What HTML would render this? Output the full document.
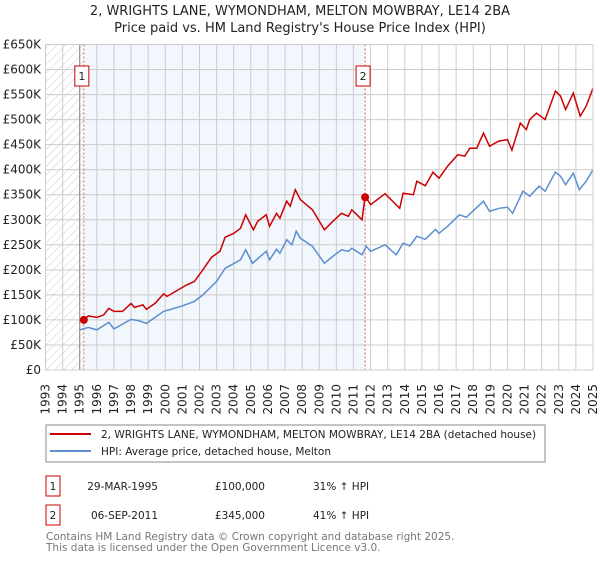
<!DOCTYPE html>
<html><head><meta charset="utf-8"><style>
body{margin:0;background:#fff;font-family:"DejaVu Sans","Liberation Sans",sans-serif;}
</style></head><body>
<svg width="600" height="560" viewBox="0 0 600 560" xmlns="http://www.w3.org/2000/svg" font-family="DejaVu Sans, Liberation Sans, sans-serif">
<defs><pattern id="hatch" width="6" height="6" patternUnits="userSpaceOnUse" patternTransform="rotate(45)"><line x1="0" y1="0" x2="0" y2="6" stroke="#ccc" stroke-width="1"/></pattern></defs>
<text x="300" y="15" text-anchor="middle" font-size="13" fill="#222">2, WRIGHTS LANE, WYMONDHAM, MELTON MOWBRAY, LE14 2BA</text>
<text x="300" y="32" text-anchor="middle" font-size="13" fill="#222">Price paid vs. HM Land Registry's House Price Index (HPI)</text>
<g id="plot"></g>
<g>
<rect x="46" y="425" width="499" height="37" fill="#fff" stroke="#888"/>
<line x1="50" y1="434" x2="91" y2="434" stroke="#cc0000" stroke-width="2"/>
<text x="101" y="438" font-size="10.5" fill="#222">2, WRIGHTS LANE, WYMONDHAM, MELTON MOWBRAY, LE14 2BA (detached house)</text>
<line x1="50" y1="451" x2="91" y2="451" stroke="#5b8fd0" stroke-width="2"/>
<text x="101" y="455" font-size="10.5" fill="#222">HPI: Average price, detached house, Melton</text>
</g>
<g font-size="10.5" fill="#222">
<rect x="46" y="476" width="14" height="20" fill="#fff" stroke="#cc0000"/>
<text x="53" y="490" text-anchor="middle">1</text>
<text x="158" y="490" text-anchor="end">29-MAR-1995</text>
<text x="265" y="490" text-anchor="end">£100,000</text>
<text x="313" y="490">31% ↑ HPI</text>
<rect x="46" y="505" width="14" height="20" fill="#fff" stroke="#cc0000"/>
<text x="53" y="519" text-anchor="middle">2</text>
<text x="158" y="519" text-anchor="end">06-SEP-2011</text>
<text x="265" y="519" text-anchor="end">£345,000</text>
<text x="313" y="519">41% ↑ HPI</text>
</g>
<text x="46" y="540" font-size="10.5" fill="#777">Contains HM Land Registry data © Crown copyright and database right 2025.</text>
<text x="46" y="551" font-size="10.5" fill="#777">This data is licensed under the Open Government Licence v3.0.</text>
</svg>
<script>
const yearTicks=[1993,1994,1995,1996,1997,1998,1999,2000,2001,2002,2003,2004,2005,2006,2007,2008,2009,2010,2011,2012,2013,2014,2015,2016,2017,2018,2019,2020,2021,2022,2023,2024,2025];
const valueTicks=[0,50,100,150,200,250,300,350,400,450,500,550,600,650];
const valueTickLabels=["£0","£50K","£100K","£150K","£200K","£250K","£300K","£350K","£400K","£450K","£500K","£550K","£600K","£650K"];
const saleYears=[1995.24,2011.68];
const salePrices=[100,345];
const saleLabels=["1","2"];
const propYears=[1995.24,1995.5,1996.0,1996.4,1996.7,1997.0,1997.5,1998.0,1998.2,1998.7,1998.9,1999.4,1999.9,2000.1,2000.8,2001.25,2001.7,2002.2,2002.7,2003.2,2003.5,2004.0,2004.4,2004.7,2005.15,2005.4,2005.9,2006.1,2006.5,2006.7,2007.1,2007.3,2007.6,2007.9,2008.6,2009.3,2009.8,2010.3,2010.7,2010.9,2011.5,2011.68,2012.0,2012.85,2013.7,2013.9,2014.5,2014.7,2015.2,2015.65,2016.0,2016.5,2017.1,2017.5,2017.8,2018.2,2018.6,2018.95,2019.5,2020.0,2020.26,2020.75,2021.1,2021.3,2021.7,2022.2,2022.8,2023.1,2023.4,2023.85,2024.25,2024.6,2025.0];
const propValues=[100,108,105,110,123,117,117,133,125,130,121,133,152,147,161,170,177,200,225,237,265,273,283,310,280,297,310,287,313,303,337,327,360,340,320,280,297,313,307,320,300,347,330,352,323,353,350,377,368,395,383,407,430,427,443,443,473,447,457,460,439,493,480,500,513,500,557,547,520,553,507,527,563];
const hpiYears=[1995.0,1995.5,1996.0,1996.7,1997.0,1998.0,1998.5,1998.9,1999.9,2000.9,2001.7,2002.2,2003.0,2003.5,2004.4,2004.7,2005.1,2005.9,2006.1,2006.5,2006.7,2007.1,2007.4,2007.65,2007.9,2008.6,2009.3,2009.8,2010.3,2010.7,2010.9,2011.5,2011.75,2012.0,2012.85,2013.5,2013.9,2014.3,2014.7,2015.2,2015.8,2016.0,2016.5,2017.2,2017.6,2017.9,2018.6,2018.95,2019.5,2020.0,2020.3,2020.9,2021.3,2021.85,2022.2,2022.8,2023.1,2023.4,2023.85,2024.2,2024.6,2025.0];
const hpiValues=[80,85,80,95,82,101,98,93,117,127,137,150,177,203,220,240,213,237,220,241,233,260,250,277,263,247,213,227,240,237,243,230,247,237,250,230,253,248,267,261,281,273,287,310,305,315,337,317,323,325,313,357,347,367,357,395,387,370,393,360,377,400];

const NS="http://www.w3.org/2000/svg";
const L=45.5,R=593,T=44.5,B=370;
const xS=y=>L+(y-1993)/(2025-1993)*(R-L);
const yS=v=>B-v/650*(B-T);
const g=document.getElementById('plot');
function mk(tag,attrs,parent){const e=document.createElementNS(NS,tag);for(const k in attrs)e.setAttribute(k,attrs[k]);(parent||g).appendChild(e);return e;}
let e;
e=mk('rect',{x:L,y:T,width:R-L,height:B-T,fill:'#fff'});


e=mk('rect',{x:L,y:T,width:xS(saleYears[0])-L,height:B-T,fill:'url(#hatch)'});


e=mk('rect',{x:xS(saleYears[0]),y:T,width:xS(saleYears[1])-xS(saleYears[0]),height:B-T,fill:'#f2f6fd'});


yearTicks.forEach(yr=>{
 e=mk('line',{x1:xS(yr),x2:xS(yr),y1:T,y2:B,stroke:'#ccc','stroke-width':1});
 
 
 e=mk('text',{x:0,y:0,transform:`translate(${xS(yr)+4},384) rotate(-90)`,'text-anchor':'end','font-size':12,fill:'#222'});
 e.textContent=yr;
 
 
});
valueTicks.forEach((v,i)=>{
 e=mk('line',{x1:L,x2:R,y1:yS(v),y2:yS(v),stroke:'#ccc','stroke-width':1});
 
 
 e=mk('text',{x:41,y:yS(v)+4,'text-anchor':'end','font-size':12,fill:'#222'});
 e.textContent=valueTickLabels[i];
 
 
});
e=mk('line',{x1:xS(1995),x2:xS(1995),y1:T,y2:B,stroke:'#888','stroke-width':1});


saleYears.forEach((yr,i)=>{
 e=mk('line',{x1:xS(yr),x2:xS(yr),y1:T,y2:B,stroke:'#e06060','stroke-width':1,'stroke-dasharray':'2,2'});
 
 
});
e=mk('path',{d:'M'+hpiYears.map((y,i)=>xS(y).toFixed(1)+','+yS(hpiValues[i]).toFixed(1)).join('L'),fill:'none',stroke:'#5b8fd0','stroke-width':1.5});


e=mk('path',{d:'M'+propYears.map((y,i)=>xS(y).toFixed(1)+','+yS(propValues[i]).toFixed(1)).join('L'),fill:'none',stroke:'#cc0000','stroke-width':1.5});


saleYears.forEach((yr,i)=>{
 e=mk('circle',{cx:xS(yr),cy:yS(salePrices[i]),r:4,fill:'#cc0000'});
 
 
 e=mk('rect',{x:xS(yr)-9,y:66,width:14,height:20,fill:'#fff',stroke:'#cc0000'});
 
 
 e=mk('text',{x:xS(yr)-2,y:80,'text-anchor':'middle','font-size':11,fill:'#222'});
 e.textContent=saleLabels[i];
 
 
});
e=mk('rect',{x:L,y:T,width:R-L,height:B-T,fill:'none',stroke:'#ccc'});


</script>
</body></html>
